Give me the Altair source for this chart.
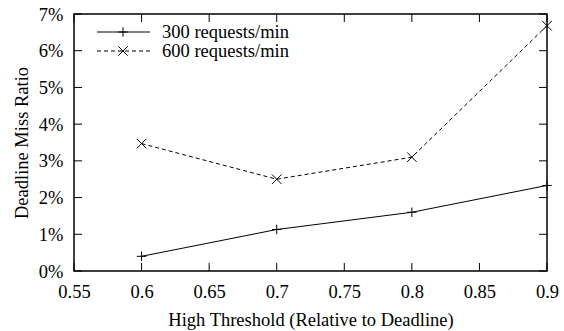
import altair as alt
import pandas as pd

# ---- data ----
x_vals = [0.6, 0.7, 0.8, 0.9]
series_names = ["300 requests/min", "600 requests/min"]
miss_300 = [0.40, 1.13, 1.60, 2.33]
miss_600 = [3.47, 2.50, 3.10, 6.68]
x_ticks = [0.55, 0.6, 0.65, 0.7, 0.75, 0.8, 0.85, 0.9]
y_ticks = [0, 1, 2, 3, 4, 5, 6, 7]

W, H = 473, 257
FONT = "Liberation Serif, Times New Roman, Times, serif"
FS = 18.5
PLUS = "M-1,0H1M0,-1V1"
CROSS = "M-1,-1L1,1M-1,1L1,-1"
DASH = [4, 3]

xscale = alt.Scale(domain=[0.55, 0.9], nice=False, zero=False)
yscale = alt.Scale(domain=[0, 7], nice=False, zero=False)

df300 = pd.DataFrame({"x": x_vals, "y": miss_300})
df600 = pd.DataFrame({"x": x_vals, "y": miss_600})

x_axis = alt.Axis(values=x_ticks, format=".2~f", ticks=False, domain=False, grid=False,
                  labelFont=FONT, labelFontSize=FS, labelColor="black", labelPadding=11,
                  labelFlush=False,
                  title="High Threshold (Relative to Deadline)", titleFont=FONT,
                  titleFontSize=FS, titleFontWeight="normal", titleColor="black",
                  titleX=W / 2, titleY=54, titleBaseline="alphabetic", titleAlign="center")
y_axis = alt.Axis(values=y_ticks, labelExpr="datum.value + '%'", ticks=False, domain=False,
                  grid=False, labelFont=FONT, labelFontSize=FS, labelColor="black",
                  labelPadding=11, labelFlush=False,
                  title="Deadline Miss Ratio", titleFont=FONT, titleFontSize=FS,
                  titleFontWeight="normal", titleColor="black",
                  titleX=-47, titleY=H / 2, titleBaseline="alphabetic", titleAlign="center",
                  titleAngle=270)

X = alt.X("x:Q", scale=xscale, axis=x_axis)
Y = alt.Y("y:Q", scale=yscale, axis=y_axis)

line300 = alt.Chart(df300).mark_line(color="black", strokeWidth=1).encode(x=X, y=Y)
pts300 = alt.Chart(df300).mark_point(shape=PLUS, size=90, color="black", strokeWidth=1,
                                     filled=False, opacity=1).encode(x=X, y=Y)
line600 = alt.Chart(df600).mark_line(color="black", strokeWidth=1, strokeDash=DASH).encode(x=X, y=Y)
pts600 = alt.Chart(df600).mark_point(shape=CROSS, size=90, color="black", strokeWidth=1,
                                     filled=False, opacity=1).encode(x=X, y=Y)

# inward ticks on all four sides
xt = pd.DataFrame({"x": x_ticks})
yt = pd.DataFrame({"y": y_ticks})
tick_bottom = alt.Chart(xt).mark_rule(color="black", strokeWidth=1).encode(
    x=X, y=alt.value(H), y2=alt.value(H - 8))
tick_top = alt.Chart(xt).mark_rule(color="black", strokeWidth=1).encode(
    x=X, y=alt.value(0), y2=alt.value(8))
tick_left = alt.Chart(yt).mark_rule(color="black", strokeWidth=1).encode(
    y=Y, x=alt.value(0), x2=alt.value(8))
tick_right = alt.Chart(yt).mark_rule(color="black", strokeWidth=1).encode(
    y=Y, x=alt.value(W - 8), x2=alt.value(W))

# legend (top-left, inside)
leg1 = pd.DataFrame({"series": [series_names[0]]})
leg2 = pd.DataFrame({"series": [series_names[1]]})
ly1, ly2 = 18, 37
lx0, lx1, lxm, ltx = 23, 76, 49, 88
leg_line1 = alt.Chart(leg1).mark_rule(color="black", strokeWidth=1).encode(
    x=alt.value(lx0), x2=alt.value(lx1), y=alt.value(ly1))
leg_pt1 = alt.Chart(leg1).mark_point(shape=PLUS, size=90, color="black", strokeWidth=1,
                                     filled=False, opacity=1).encode(
    x=alt.value(lxm), y=alt.value(ly1))
leg_txt1 = alt.Chart(leg1).mark_text(align="left", baseline="middle", font=FONT, fontSize=FS,
                                     color="black").encode(
    text="series:N", x=alt.value(ltx), y=alt.value(ly1))
leg_line2 = alt.Chart(leg2).mark_rule(color="black", strokeWidth=1, strokeDash=DASH).encode(
    x=alt.value(lx0), x2=alt.value(lx1), y=alt.value(ly2))
leg_pt2 = alt.Chart(leg2).mark_point(shape=CROSS, size=90, color="black", strokeWidth=1,
                                     filled=False, opacity=1).encode(
    x=alt.value(lxm), y=alt.value(ly2))
leg_txt2 = alt.Chart(leg2).mark_text(align="left", baseline="middle", font=FONT, fontSize=FS,
                                     color="black").encode(
    text="series:N", x=alt.value(ltx), y=alt.value(ly2))

chart = alt.layer(
    line300, pts300, line600, pts600,
    tick_bottom, tick_top, tick_left, tick_right,
    leg_line1, leg_pt1, leg_txt1, leg_line2, leg_pt2, leg_txt2,
).properties(
    width=W, height=H,
    autosize=alt.AutoSizeParams(type="none"),
    padding={"left": 74, "top": 14, "right": 17, "bottom": 60},
    background="white",
).configure_view(stroke="black", strokeWidth=1.5)

chart.save("out.html", embed_options={"renderer": "svg", "actions": False})
